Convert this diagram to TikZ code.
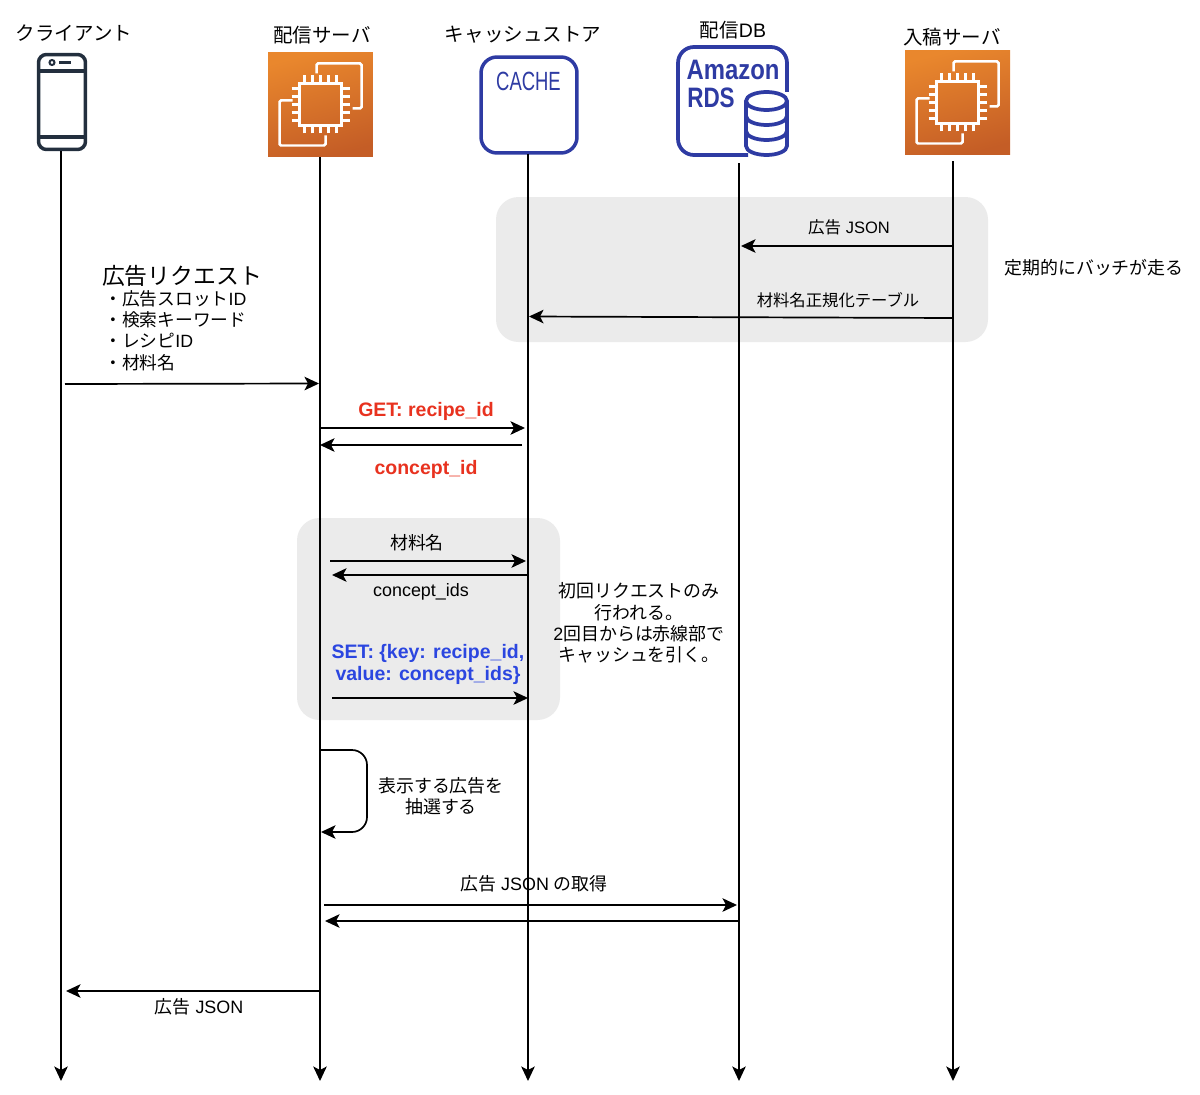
\documentclass[tikz,border=0pt]{standalone}
\usepackage{fontspec}
\setmainfont{Liberation Sans}
\newfontfamily\jp{Noto Sans CJK JP}
\usetikzlibrary{arrows.meta}
\definecolor{awsblue}{HTML}{2E3BA3}
\definecolor{phonedark}{HTML}{232F3E}
\definecolor{regiongray}{HTML}{EBEBEB}
\definecolor{getred}{HTML}{E8321F}
\definecolor{setblue}{HTML}{2B46E0}
\definecolor{ectop}{HTML}{E9872D}
\definecolor{ecbottom}{HTML}{C45D26}
\tikzset{
  lbl/.style={inner sep=0pt, font=\fontsize{10.2}{12}\selectfont, align=center},
  head/.style={inner sep=0pt, font=\fontsize{11.1}{13}\selectfont},
  boldlbl/.style={inner sep=0pt, align=center, font=\bfseries\fontsize{11.1}{13}\selectfont},
  msg/.style={line width=0.034cm, ->},
  life/.style={line width=0.034cm, ->},
  region/.style={fill=regiongray, rounded corners=0.45cm},
  ecbox/.style={minimum size=2.1cm, inner sep=0pt, top color=ectop,
    bottom color=ecbottom, shading angle=15},
  ecline/.style={draw=white, line width=0.05cm},
  ecchip/.pic={
    \draw[ecline, rounded corners=0.03cm] (-4,-31) -- (-4,-41) -- (41,-41) -- (41,4) -- (32,4);
    \draw[ecline, rounded corners=0.03cm] (5,31) -- (5,41) -- (-41,41) -- (-41,-4) -- (-28,-4);
    \draw[ecline, line width=0.06cm] (-21,-21) rectangle (21,21);
    \foreach \p in {-16,-8,0,8,16} {
      \draw[ecline] (\p,-29) -- (\p,-22);
      \draw[ecline] (\p,29) -- (\p,22);
      \draw[ecline] (-29,\p) -- (-22,\p);
      \draw[ecline] (29,\p) -- (22,\p);
    }
  }
}
\begin{document}
\begin{tikzpicture}[x=0.02cm, y=-0.02cm, >={Stealth[length=0.29cm, width=0.27cm, inset=0.07cm]}]
  \useasboundingbox (0,0) rectangle (1200,1095);

  % gray regions
  \fill[region] (496,197) rectangle (988,342);
  \fill[region] (297,518) rectangle (560,720);

  % client phone
  \node[draw=phonedark, line width=0.07cm, rounded corners=0.16cm, minimum width=0.94cm,
    minimum height=1.9cm, inner sep=0pt] (client) at (62,102) {};
  \draw[phonedark, line width=0.07cm] (38,71) -- (86,71);
  \draw[phonedark, line width=0.07cm] (38,137) -- (86,137);
  \draw[phonedark, line width=0.04cm] (52,62.5) circle (2.5);
  \draw[phonedark, line width=0.07cm] (59,62.5) -- (71,62.5);
  \node[head] (clientname) at (74,33) {\jp クライアント};

  % delivery server
  \node[ecbox] (server) at (320.5,104.5) {};
  \pic at (server) {ecchip};
  \node[head] (servername) at (322,35) {\jp 配信サーバ};

  % cache store
  \node[draw=awsblue, line width=0.07cm, rounded corners=0.32cm, minimum size=1.92cm,
    inner sep=0pt] (cache) at (529,105) {};
  \node[inner sep=0pt, text=awsblue, xscale=0.7, font=\fontsize{15}{18}\selectfont] (cachetext) at (528.5,81) {CACHE};
  \node[head] (cachename) at (523,35) {\jp キャッシュストア};

  % delivery db
  \node[minimum size=2.2cm, inner sep=0pt] (db) at (733,101) {};
  \draw[awsblue, line width=0.075cm, rounded corners=0.32cm] (787,92) -- (787,47) -- (678,47) -- (678,155) -- (748,155);
  \node[inner sep=0pt, text=awsblue, xscale=0.85, font=\bfseries\fontsize{16}{18}\selectfont] (amazon) at (733,70) {Amazon};
  \node[inner sep=0pt, text=awsblue, xscale=0.8, font=\bfseries\fontsize{16}{18}\selectfont] (rds) at (711,98) {RDS};
  \fill[white] (746,101) -- (746,146) arc (180:0:20.5 and 9) -- (787,101) arc (0:-180:20.5 and 9) -- cycle;
  \draw[awsblue, line width=0.075cm] (746,101) -- (746,146) arc (180:0:20.5 and 9) -- (787,101);
  \draw[awsblue, line width=0.075cm] (766.5,101) ellipse (20.5 and 9);
  \draw[awsblue, line width=0.075cm] (746,116) arc (180:0:20.5 and 9);
  \draw[awsblue, line width=0.075cm] (746,131) arc (180:0:20.5 and 9);
  \node[head] (dbname) at (733,30) {\jp 配信\normalfont DB};

  % submission server
  \node[ecbox] (submit) at (957.5,102.5) {};
  \pic at (submit) {ecchip};
  \node[head] (submitname) at (952,37) {\jp 入稿サーバ};

  % lifelines
  \coordinate (clientend) at (61,1081);
  \coordinate (serverend) at (320,1081);
  \coordinate (cacheend) at (528,1081);
  \coordinate (dbtop) at (739,163);
  \coordinate (dbend) at (739,1081);
  \coordinate (submittop) at (953,161);
  \coordinate (submitend) at (953,1081);
  \draw[life] (61,151) -- (clientend);
  \draw[life] (320,157) -- (serverend);
  \draw[life] (528,154) -- (cacheend);
  \draw[life] (dbtop) -- (dbend);
  \draw[life] (submittop) -- (submitend);

  % batch messages
  \coordinate (jsonA) at (953,246);
  \coordinate (jsonB) at (741,246);
  \draw[msg] (jsonA) -- (jsonB);
  \node[lbl, font=\fontsize{9.4}{12}\selectfont] (jsonlbl) at (849,227) {{\jp 広告} JSON};
  \coordinate (normA) at (953,318);
  \coordinate (normB) at (529,316.5);
  \draw[msg] (normA) -- (normB);
  \node[lbl, font=\fontsize{9.3}{12}\selectfont] (normlbl) at (838,300) {\jp 材料名正規化テーブル};
  \node[lbl] (batchnote) at (1094,268) {\jp 定期的にバッチが走る};

  % request
  \node[inner sep=0pt, font=\fontsize{13}{15}\selectfont] (reqtitle) at (182,276) {\jp 広告リクエスト};
  \node[lbl, align=left, anchor=north west, font=\fontsize{10.1}{12.1}\selectfont] (reqlist) at (104,290)
    {{\jp ・広告スロット}ID\\{\jp ・検索キーワード}\\{\jp ・レシピ}ID\\{\jp ・材料名}};
  \coordinate (reqA) at (65,384);
  \coordinate (reqB) at (319,383.5);
  \draw[msg] (reqA) -- (reqB);

  % cache lookup
  \coordinate (getA) at (320,428);
  \coordinate (getB) at (525,428);
  \draw[msg] (getA) -- (getB);
  \coordinate (idA) at (522,445);
  \coordinate (idB) at (320,445);
  \draw[msg] (idA) -- (idB);
  \node[boldlbl, text=getred] (getlbl) at (426,411) {GET: recipe\_id};
  \node[boldlbl, text=getred] (idlbl) at (426,469) {concept\_id};

  % first request only
  \coordinate (nameA) at (330,561);
  \coordinate (nameB) at (526,561);
  \draw[msg] (nameA) -- (nameB);
  \node[lbl] (namelbl) at (417,543) {\jp 材料名};
  \coordinate (idsA) at (528,575);
  \coordinate (idsB) at (332,575);
  \draw[msg] (idsA) -- (idsB);
  \node[lbl] (idslbl) at (421,591.5) {concept\_ids};
  \node[boldlbl, text=setblue] (setlbl) at (428,664.5)
    {SET: \{key: recipe\_id,\\value: concept\_ids\}};
  \coordinate (setA) at (332,698);
  \coordinate (setB) at (528,698);
  \draw[msg] (setA) -- (setB);
  \node[lbl, font=\fontsize{10.2}{12.1}\selectfont] (firstnote) at (639,623)
    {\jp 初回リクエストのみ\\\jp 行われる。\\2{\jp 回目からは赤線部で}\\\jp キャッシュを引く。};

  % ad selection
  \coordinate (selA) at (320,750);
  \coordinate (selB) at (321,832);
  \draw[msg, rounded corners=0.3cm] (selA) -- (367,750) -- (367,832) -- (selB);
  \node[lbl] (sellbl) at (441,796.5) {\jp 表示する広告を\\\jp 抽選する};

  % fetch ad json
  \coordinate (fetchA) at (324,905);
  \coordinate (fetchB) at (737,905);
  \draw[msg] (fetchA) -- (fetchB);
  \coordinate (backA) at (738,921);
  \coordinate (backB) at (325,921);
  \draw[msg] (backA) -- (backB);
  \node[lbl] (fetchlbl) at (534,884) {{\jp 広告} JSON {\jp の取得}};

  % response
  \coordinate (respA) at (320,991);
  \coordinate (respB) at (66,991);
  \draw[msg] (respA) -- (respB);
  \node[lbl] (resplbl) at (199,1007) {{\jp 広告} JSON};
\end{tikzpicture}
\end{document}
